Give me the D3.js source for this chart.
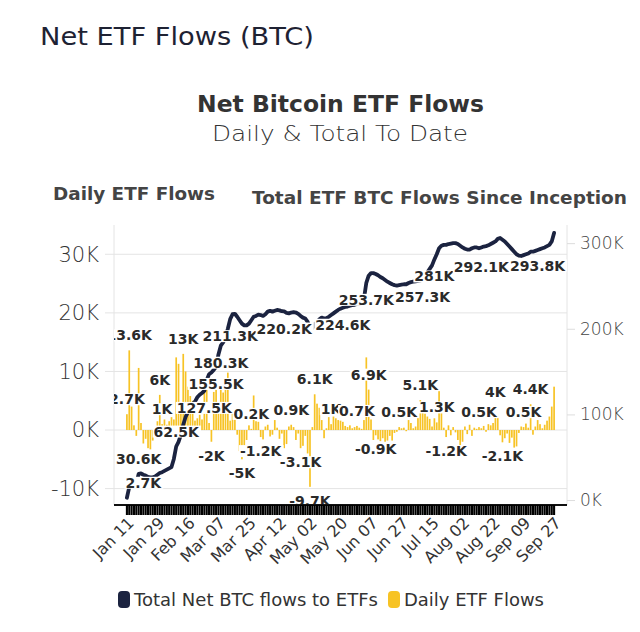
<!DOCTYPE html>
<html>
<head>
<meta charset="utf-8">
<script src="https://cdn.jsdelivr.net/npm/d3@7"></script>
<style>
  body { margin: 0; background: #fff; }
  text { font-family: "DejaVu Sans", sans-serif; }
</style>
</head>
<body>
<svg id="chart" width="640" height="632"></svg>
<script>
// daily net flows, thousands of BTC (one per trading day, Jan 11 .. Sep 27)
const dailyK = [
  2.7, 13.6, 4.0, 0.8, -1.0, 10.6, 1.2, -2.3, -1.5, -3.1,
  -3.3, -1.8, 0.6, 1.5, 6.0, 1.0, 1.8, 0.9, 1.5, 2.2,
  1.8, 12.4, 11.3, 4.5, 13.0, 10.0, 7.4, 5.8, 5.0, 1.6,
  2.0, 2.6, 1.8, 6.8, 7.0, 1.2, -2.0, 6.5, 7.4, 3.0,
  7.5, 6.4, 7.0, 9.8, 1.6, 3.0, 2.8, -0.8, -3.6, -5.0,
  -4.2, -1.7, 0.8, 0.2, 5.9, 1.5, 1.4, -1.2, -1.6, 0.6,
  0.9, -1.1, -0.8, 1.7, 0.4, -1.5, -0.6, -3.1, -2.4, 0.6,
  0.9, 0.5, -1.7, -0.6, -3.1, -2.7, -1.0, -4.0, -9.7, 0.5,
  6.1, 4.5, 3.8, 1.7, -1.4, 0.3, 2.2, 1.0, 2.3, 2.0,
  1.7, 1.6, 1.4, 0.7, 0.5, 0.8, 0.3, 0.5, 0.7, 0.4,
  0.2, 1.7, 12.4, 6.9, 1.8, -1.7, -0.9, -1.6, -1.9, -1.4,
  -2.0, -1.8, -1.0, -1.8, -0.5, -0.3, 0.5, 0.3, 0.4, -0.2,
  1.7, 1.2, 0.3, 0.6, 2.5, 5.1, 3.2, 2.8, 2.3, 1.9,
  0.6, 2.0, 1.3, 7.5, 3.0, 0.4, -1.2, 0.8, -0.9, 0.5,
  -0.4, -1.7, -2.8, -2.0, 0.6, -0.7, 0.9, -1.0, 0.4, 0.2,
  0.5, 0.3, 0.7, -0.3, 1.0, 0.8, 1.2, 4.0, 2.8, -0.9,
  -2.1, -1.4, -0.6, -2.2, -1.3, -3.0, -2.8, -0.5, 0.6, 0.5,
  1.1, 0.4, 4.4, -0.8, 0.6, 1.7, 1.0, 0.3, 0.9, 1.6,
  2.3, 4.0, 7.4
];

// total net flows since inception, thousands of BTC
const totalK = [
  2.7, 15, 19, 20, 19.5, 30.6, 31, 29.5, 28.5, 27,
  26.5, 26.5, 27.5, 29.5, 31.5, 32.5, 34, 35.5, 37, 38.5,
  48, 62.5, 68, 76, 88, 97, 103, 108, 112, 115,
  120, 123, 125, 127.5, 140, 147, 149, 152, 155.5, 170,
  180.3, 184, 190, 200, 211.3, 217, 217.5, 214, 210, 206,
  204, 204, 206, 210, 214, 215, 216.5, 216, 215, 217,
  220, 221, 220, 221, 222, 221.5, 220.5, 220.2, 218.5, 218,
  219, 219.5, 219, 217.5, 215, 213, 212, 208, 200, 200.5,
  205, 208, 211, 213, 212, 212.5, 214, 216, 218, 220,
  222, 223.5, 224.6, 225.5, 226, 227, 227.5, 228, 229, 229.5,
  230, 235, 253.7, 262, 265, 265, 264, 262.5, 260.5, 259,
  257, 255, 253.5, 252, 251, 250.5, 251, 251.5, 252, 252,
  253.5, 254.5, 255, 255.5, 256, 256.5, 257.3, 262, 266, 270,
  274, 281, 287, 294, 297, 298, 298, 299, 299.5, 300,
  300, 299, 297, 295, 293.5, 292.5, 292.5, 294, 295, 295,
  294, 295, 296, 296.5, 297.5, 299, 300.5, 302, 305, 306,
  304, 302, 299, 296, 293, 290, 287, 285.5, 285, 286,
  287, 288, 290, 290, 291, 292, 293, 294, 295, 296.5,
  298, 302, 312
];

const tickLabels = ["Jan 11", "Jan 29", "Feb 16", "Mar 07", "Mar 25", "Apr 12", "May 02",
  "May 20", "Jun 07", "Jun 27", "Jul 15", "Aug 02", "Aug 22", "Sep 09", "Sep 27"];

const leftTicks = [-10, 0, 10, 20, 30];
const rightTicks = [0, 100, 200, 300];

// which daily bars carry a value label
const barLabelIdx = [0, 1, 14, 15, 24, 36, 49, 53, 57, 70, 74, 78, 80, 87, 98, 103,
  106, 116, 125, 132, 136, 150, 157, 160, 169, 172];

// labels on the total line
const lineLabelIdx = [7, 5, 21, 33, 38, 40, 44, 67, 92, 102, 126, 131, 151, 175];
const lineLabelK = [2.7, 30.6, 62.5, 127.5, 155.5, 180.3, 211.3, 220.2, 224.6, 253.7,
  257.3, 281, 292.1, 293.8];

const navy = "#1b2340", gold = "#f7c325";
const fmtK = v => (+v.toFixed(1)) + "K";

const svg = d3.select("#chart");
const pL = 114, pR = 567, pT = 225, pB = 505;

const x = d3.scalePoint()
  .domain(d3.range(dailyK.length))
  .range([pL, pR])
  .padding(5.5);

const yL = d3.scaleLinear().domain([-12.8, 35]).range([pB, pT]);
const yR = d3.scaleLinear().domain([-5.8, 321.2]).range([pB, pT]);

// headings (widths fitted to the original's wide typeface)
function heading(txt, xx, yy, size, weight, fill, anchor, len) {
  svg.append("text").attr("x", xx).attr("y", yy).attr("text-anchor", anchor)
    .attr("font-size", size).attr("font-weight", weight).attr("fill", fill)
    .attr("textLength", len).attr("lengthAdjust", "spacingAndGlyphs")
    .text(txt);
}
heading("Net ETF Flows (BTC)", 40, 45, 24, "normal", "#1e2233", "start", 274);
heading("Net Bitcoin ETF Flows", 340.5, 112, 23, "bold", "#333", "middle", 287);
heading("Daily & Total To Date", 340, 141, 22, 200, "#333", "middle", 256);
heading("Daily ETF Flows", 134, 200, 17, "bold", "#444", "middle", 162);
heading("Total ETF BTC Flows Since Inception", 439.5, 204, 17, "bold", "#444", "middle", 375);

// grid + borders
svg.append("g").selectAll("line").data(leftTicks).join("line")
  .attr("x1", pL - 9).attr("x2", pR)
  .attr("y1", d => yL(d)).attr("y2", d => yL(d))
  .attr("stroke", "#e4e4e4");
svg.append("line").attr("x1", pL).attr("x2", pL).attr("y1", pT).attr("y2", pB)
  .attr("stroke", "#e4e4e4");
svg.append("line").attr("x1", pR).attr("x2", pR).attr("y1", pT).attr("y2", pB)
  .attr("stroke", "#e4e4e4");

// left axis
const gl = svg.append("g").attr("transform", `translate(${pL},0)`)
  .call(d3.axisLeft(yL).tickValues(leftTicks).tickFormat(d => d + "K").tickSize(0).tickPadding(15));
gl.select(".domain").remove();
gl.selectAll("text").attr("font-size", 21).attr("font-weight", 200).attr("fill", "#333")
  .attr("font-family", "'DejaVu Sans', sans-serif");

// right axis
const gr = svg.append("g").attr("transform", `translate(${pR},0)`)
  .call(d3.axisRight(yR).tickValues(rightTicks).tickFormat(d => d + "K").tickSize(8).tickPadding(5));
gr.select(".domain").remove();
gr.selectAll("line").attr("stroke", "#ddd");
gr.selectAll("text").attr("font-size", 17).attr("font-weight", 200).attr("fill", "#444")
  .attr("font-family", "'DejaVu Sans', sans-serif");

// clip to plot area
svg.append("clipPath").attr("id", "plot")
  .append("rect").attr("x", pL).attr("y", pT).attr("width", pR - pL).attr("height", pB - pT);
const plot = svg.append("g").attr("clip-path", "url(#plot)");

// bars
const bw = x.step() * 0.72;
plot.append("g").selectAll("rect").data(dailyK).join("rect")
  .attr("x", (d, i) => x(i) - bw / 2)
  .attr("width", bw)
  .attr("y", d => yL(Math.max(0, d)))
  .attr("height", d => Math.abs(yL(d) - yL(0)))
  .attr("fill", gold);

// total line
plot.append("path").datum(totalK)
  .attr("fill", "none").attr("stroke", navy).attr("stroke-width", 3.8)
  .attr("stroke-linejoin", "round").attr("stroke-linecap", "round")
  .attr("d", d3.line().x((d, i) => x(i)).y(d => yR(d)));

// value labels with white backing
function addLabel(g, cx, cy, txt) {
  const t = g.append("text").attr("x", cx).attr("y", cy).attr("dy", "0.36em")
    .attr("text-anchor", "middle").attr("font-size", 14).attr("font-weight", "bold")
    .attr("fill", "#2a2a2a").text(txt);
  const b = t.node().getBBox();
  g.insert("rect", () => t.node())
    .attr("x", b.x - 1).attr("y", b.y + 2).attr("width", b.width + 2).attr("height", b.height - 4)
    .attr("fill", "#fff");
}
const labels = plot.append("g");
barLabelIdx.forEach(i => {
  const v = dailyK[i];
  addLabel(labels, x(i), v >= 0 ? yL(v) - 15 : yL(v) + 14, fmtK(v));
});
lineLabelIdx.forEach((i, k) => {
  const v = lineLabelK[k];
  addLabel(labels, x(i), v < 100 ? yR(v) - 15 : yR(v) + 17, fmtK(v));
});

// x axis line and per-day ticks
svg.append("line").attr("x1", pL).attr("x2", pR).attr("y1", pB).attr("y2", pB)
  .attr("stroke", "#111").attr("stroke-width", 2);
svg.append("g").selectAll("line").data(dailyK).join("line")
  .attr("x1", (d, i) => x(i)).attr("x2", (d, i) => x(i))
  .attr("y1", pB).attr("y2", pB + 10)
  .attr("stroke", "#000").attr("stroke-width", 2.1);

// rotated date labels
const tickStep = (dailyK.length - 1) / (tickLabels.length - 1);
svg.append("g").selectAll("text").data(tickLabels).join("text")
  .attr("transform", (d, k) => `translate(${x(k * tickStep) + 4},${pB + 15}) rotate(-45)`)
  .attr("text-anchor", "end").attr("dy", "0.35em")
  .attr("font-size", 16).attr("fill", "#333").text(d => d);

// legend
const legend = [
  { name: "Total Net BTC flows to ETFs", color: navy, x: 118, w: 244 },
  { name: "Daily ETF Flows", color: gold, x: 388, w: 140 }
];
const lg = svg.append("g").selectAll("g").data(legend).join("g")
  .attr("transform", d => `translate(${d.x},591)`);
lg.append("rect").attr("width", 12).attr("height", 17).attr("rx", 4).attr("fill", d => d.color);
lg.append("text").attr("x", 16).attr("y", 15).attr("font-size", 18).attr("fill", "#333")
  .attr("textLength", d => d.w).attr("lengthAdjust", "spacingAndGlyphs")
  .text(d => d.name);
</script>
</body>
</html>
